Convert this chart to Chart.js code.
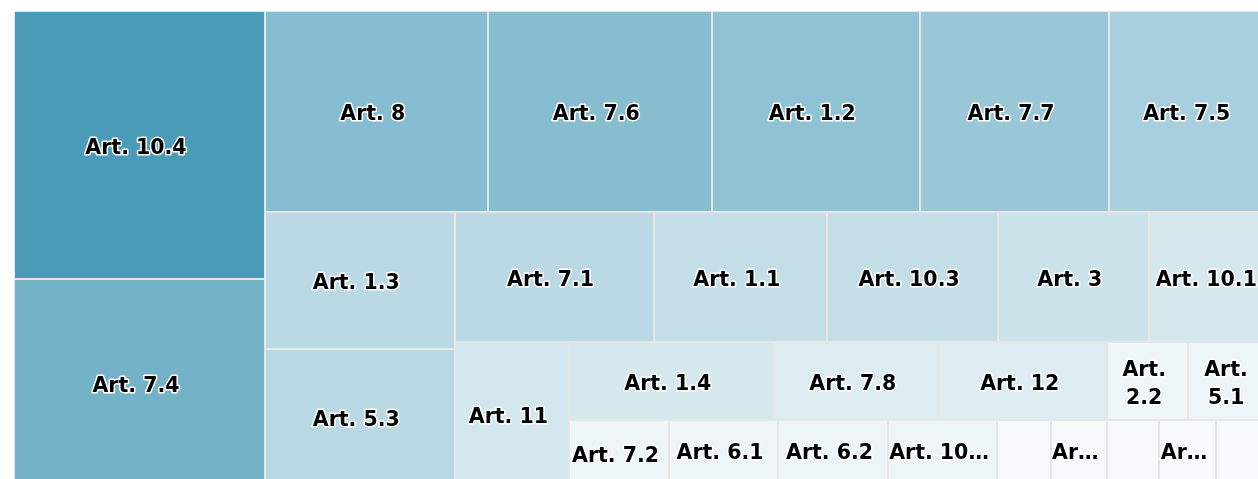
<!DOCTYPE html>
<html>
<head>
<meta charset="utf-8">
<script src="https://cdn.jsdelivr.net/npm/chart.js@4.4.1/dist/chart.umd.min.js"></script>
<style>
  html, body { margin: 0; padding: 0; background: #ffffff; overflow: hidden; }
  #wrap { position: absolute; left: 0; top: 0; }
</style>
</head>
<body>
<div id="wrap"><canvas id="myChart" width="1290" height="500"></canvas></div>
<script>
// article labels, in drawing order
const articles = [
  "Art. 10.4", "Art. 7.4", "Art. 8", "Art. 7.6", "Art. 1.2", "Art. 7.7", "Art. 7.5",
  "Art. 1.3", "Art. 5.3", "Art. 7.1", "Art. 1.1", "Art. 10.3", "Art. 3", "Art. 10.1",
  "Art. 11", "Art. 1.4", "Art. 7.8", "Art. 12", "Art. 2.2", "Art. 5.1",
  "Art. 7.2", "Art. 6.1", "Art. 6.2", "Art. 10.2", "Art. 2.1", "Art. 4", "Art. 5.2",
  "Art. 9", "Art. 7.3", "Art. 1.5",
];

// size of each cell
const counts = [
  20.3, 15.7, 13.5, 13.6, 12.6, 11.5, 9.8,
  7.8, 7.9, 7.8, 6.8, 6.7, 5.9, 4.8,
  5.0, 4.8, 3.9, 3.95, 1.9, 1.95,
  2.0, 2.0, 2.0, 2.0, 0.98, 1.02, 0.95,
  1.05, 1.0, 1.1,
];

const minColor = [255, 255, 255];
const maxColor = [75, 156, 184];
const FONT_SIZE = 20.5;
const CAP = FONT_SIZE * 0.73;
const LINE_H = 28;
const PAD = 3;
const OUTLINE = 3;

const maxCount = Math.max(...counts);

function cellColor(v) {
  const t = v / maxCount;
  const c = minColor.map((m, k) => Math.round(m + (maxColor[k] - m) * t));
  return `rgb(${c[0]}, ${c[1]}, ${c[2]})`;
}

// squarified layout that alternates between a column on the left and a row on top
function squarify(values, width, height) {
  const total = values.reduce((s, v) => s + v, 0);
  const areas = values.map((v) => (v / total) * width * height);
  const boxes = [];
  let x = 0, y = 0, w = width, h = height;
  let dir = 0;
  let group = [];
  let sum = 0;

  const ratio = (a, s) => {
    if (dir === 0) {
      const gw = s / h, ch = a / gw;
      return Math.max(gw / ch, ch / gw);
    }
    const gh = s / w, cw = a / gh;
    return Math.max(gh / cw, cw / gh);
  };

  const flush = () => {
    if (dir === 0) {
      const gw = sum / h;
      let cy = y;
      group.forEach((i) => {
        const ch = areas[i] / gw;
        boxes[i] = { x: x, y: cy, w: gw, h: ch };
        cy += ch;
      });
      x += gw;
      w -= gw;
    } else {
      const gh = sum / w;
      let cx = x;
      group.forEach((i) => {
        const cw = areas[i] / gh;
        boxes[i] = { x: cx, y: y, w: cw, h: gh };
        cx += cw;
      });
      y += gh;
      h -= gh;
    }
    dir = 1 - dir;
    group = [];
    sum = 0;
  };

  areas.forEach((a, i) => {
    if (group.length) {
      const last = areas[group[group.length - 1]];
      if (ratio(last, sum + a) > ratio(last, sum)) flush();
    }
    group.push(i);
    sum += a;
  });
  if (group.length) flush();
  return boxes;
}

//fits a label in a cell: one line, wrapped, or cut with an ellipsis
function fitLabel(ctx, text, w, h) {
  const aw = w - 2 * PAD;
  const ah = h - 2 * PAD;
  const m = (s) => ctx.measureText(s).width + OUTLINE;
  if (ah < FONT_SIZE) return [];
  if (m(text) <= aw) return [text];

  const words = text.split(" ");
  const lines = [];
  let cur = "";
  words.forEach((wd) => {
    const next = cur ? cur + " " + wd : wd;
    if (cur && m(next) > aw) {
      lines.push(cur);
      cur = wd;
    } else {
      cur = next;
    }
  });
  if (cur) lines.push(cur);
  if (lines.length * LINE_H <= ah && lines.every((l) => m(l) <= aw)) return lines;

  for (let n = text.length - 1; n >= 2; n--) {
    const s = text.slice(0, n).trimEnd() + "\u2026";
    if (m(s) <= aw) return [s];
  }
  return [];
}

class Cell extends Chart.Element {
  static id = "cell";
  static defaults = { borderWidth: 1, borderColor: "#e6e6e6", backgroundColor: "#cccccc" };

  draw(ctx) {
    const { x, y, width, height, options } = this;
    const x0 = Math.round(x), y0 = Math.round(y);
    const x1 = Math.round(x + width), y1 = Math.round(y + height);
    const b = options.borderWidth;
    ctx.save();
    ctx.fillStyle = options.borderColor;
    ctx.fillRect(x0, y0, x1 - x0, y1 - y0);
    ctx.fillStyle = options.backgroundColor;
    ctx.fillRect(x0 + b, y0 + b, x1 - x0 - 2 * b, y1 - y0 - 2 * b);
    ctx.restore();
  }
}

class TreemapController extends Chart.DatasetController {
  static id = "treemap";
  static defaults = { dataElementType: "cell", datasetElementType: false };

  parse(start, count) {
    const meta = this._cachedMeta;
    const data = this.getDataset().data;
    for (let i = start; i < start + count; i++) meta._parsed[i] = { x: i, y: data[i] };
  }

  update(mode) {
    const meta = this._cachedMeta;
    this.updateElements(meta.data, 0, meta.data.length, mode);
  }

  updateElements(cells, start, count, mode) {
    const { xScale, yScale } = this._cachedMeta;
    const boxes = squarify(this.getDataset().data, xScale.max - xScale.min, yScale.max - yScale.min);
    for (let i = start; i < start + count; i++) {
      const b = boxes[i];
      const xa = xScale.getPixelForValue(xScale.min + b.x);
      const xb = xScale.getPixelForValue(xScale.min + b.x + b.w);
      const ya = yScale.getPixelForValue(yScale.min + b.y);
      const yb = yScale.getPixelForValue(yScale.min + b.y + b.h);
      this.updateElement(cells[i], i, {
        x: Math.min(xa, xb),
        y: Math.min(ya, yb),
        width: Math.abs(xb - xa),
        height: Math.abs(yb - ya),
        options: this.resolveDataElementOptions(i, mode),
      }, "none");
    }
  }

  draw() {
    super.draw();
    const ctx = this.chart.ctx;
    const labels = this.chart.data.labels;
    ctx.save();
    ctx.font = `bold ${FONT_SIZE}px "DejaVu Sans"`;
    ctx.textAlign = "center";
    ctx.textBaseline = "alphabetic";
    ctx.lineJoin = "round";
    ctx.lineWidth = OUTLINE;
    ctx.strokeStyle = "#ffffff";
    ctx.fillStyle = "#000000";
    this._cachedMeta.data.forEach((cell, i) => {
      const lines = fitLabel(ctx, labels[i], cell.width, cell.height);
      const cx = cell.x + cell.width / 2 - 3.5;
      const cy = cell.y + cell.height / 2;
      lines.forEach((line, k) => {
        const by = cy + CAP / 2 + 1 + (k - (lines.length - 1) / 2) * LINE_H;
        ctx.strokeText(line, cx, by);
        ctx.fillText(line, cx, by);
      });
    });
    ctx.restore();
  }
}

Chart.register(Cell, TreemapController);

const myChart = new Chart(document.getElementById("myChart"), {
  type: "treemap",
  data: {
    labels: articles,
    datasets: [
      {
        data: counts,
        backgroundColor: (c) => cellColor(c.raw),
        borderColor: "#e6e6e6",
        borderWidth: 1,
      },
    ],
  },
  options: {
    responsive: false,
    animation: false,
    devicePixelRatio: 1,
    events: [],
    layout: { padding: { left: 14, top: 11, right: 19, bottom: 13 } },
    scales: {
      x: { type: "linear", display: false, min: 0, max: 1257, bounds: "data" },
      y: { type: "linear", display: false, min: 0, max: 476, reverse: true, bounds: "data" },
    },
    plugins: { legend: { display: false }, tooltip: { enabled: false } },
  },
});
</script>
</body>
</html>
